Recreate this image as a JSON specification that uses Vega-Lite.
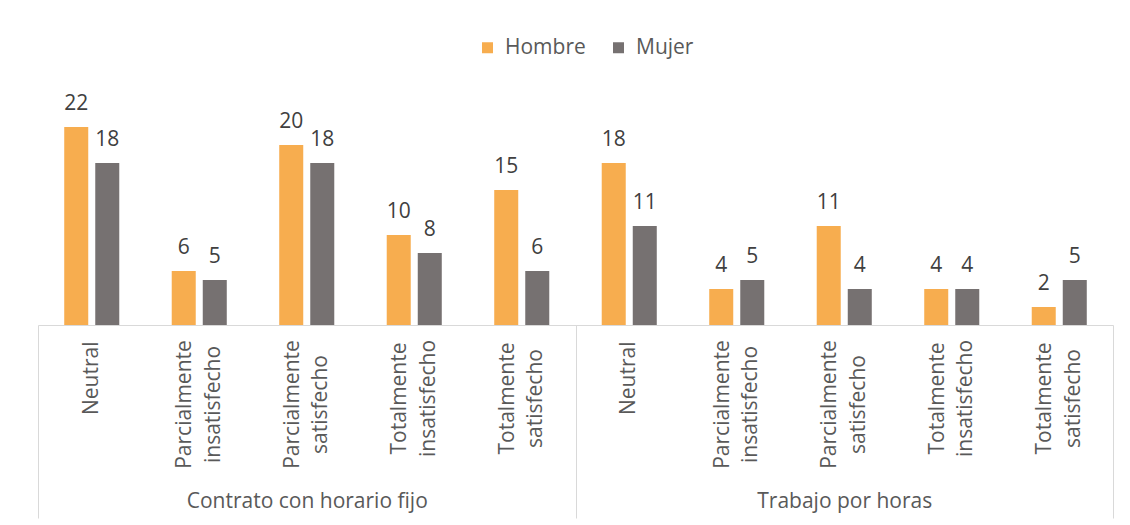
{
  "$schema": "https://vega.github.io/schema/vega-lite/v6.json",
  "width": 1075,
  "height": 225,
  "autosize": {"type": "none"},
  "padding": {"left": 38, "top": 100, "right": 17, "bottom": 200},
  "background": "white",
  "config": {"view": {"stroke": null}, "font": "Open Sans"},
  "data": {
    "values": [
      {"grupo": "Contrato con horario fijo", "clave": "1 Neutral", "sexo": "Hombre", "valor": 22},
      {"grupo": "Contrato con horario fijo", "clave": "1 Neutral", "sexo": "Mujer", "valor": 18},
      {"grupo": "Contrato con horario fijo", "clave": "1 Parcialmente|insatisfecho", "sexo": "Hombre", "valor": 6},
      {"grupo": "Contrato con horario fijo", "clave": "1 Parcialmente|insatisfecho", "sexo": "Mujer", "valor": 5},
      {"grupo": "Contrato con horario fijo", "clave": "1 Parcialmente|satisfecho", "sexo": "Hombre", "valor": 20},
      {"grupo": "Contrato con horario fijo", "clave": "1 Parcialmente|satisfecho", "sexo": "Mujer", "valor": 18},
      {"grupo": "Contrato con horario fijo", "clave": "1 Totalmente|insatisfecho", "sexo": "Hombre", "valor": 10},
      {"grupo": "Contrato con horario fijo", "clave": "1 Totalmente|insatisfecho", "sexo": "Mujer", "valor": 8},
      {"grupo": "Contrato con horario fijo", "clave": "1 Totalmente|satisfecho", "sexo": "Hombre", "valor": 15},
      {"grupo": "Contrato con horario fijo", "clave": "1 Totalmente|satisfecho", "sexo": "Mujer", "valor": 6},
      {"grupo": "Trabajo por horas", "clave": "2 Neutral", "sexo": "Hombre", "valor": 18},
      {"grupo": "Trabajo por horas", "clave": "2 Neutral", "sexo": "Mujer", "valor": 11},
      {"grupo": "Trabajo por horas", "clave": "2 Parcialmente|insatisfecho", "sexo": "Hombre", "valor": 4},
      {"grupo": "Trabajo por horas", "clave": "2 Parcialmente|insatisfecho", "sexo": "Mujer", "valor": 5},
      {"grupo": "Trabajo por horas", "clave": "2 Parcialmente|satisfecho", "sexo": "Hombre", "valor": 11},
      {"grupo": "Trabajo por horas", "clave": "2 Parcialmente|satisfecho", "sexo": "Mujer", "valor": 4},
      {"grupo": "Trabajo por horas", "clave": "2 Totalmente|insatisfecho", "sexo": "Hombre", "valor": 4},
      {"grupo": "Trabajo por horas", "clave": "2 Totalmente|insatisfecho", "sexo": "Mujer", "valor": 4},
      {"grupo": "Trabajo por horas", "clave": "2 Totalmente|satisfecho", "sexo": "Hombre", "valor": 2},
      {"grupo": "Trabajo por horas", "clave": "2 Totalmente|satisfecho", "sexo": "Mujer", "valor": 5}
    ]
  },
  "layer": [
    {
      "encoding": {
        "x": {
          "field": "clave", "type": "nominal", "sort": null,
          "scale": {"paddingInner": 0.488, "paddingOuter": 0.244},
          "axis": {
            "orient": "bottom", "title": null, "domain": false, "ticks": false,
            "labelAngle": -90, "labelFontSize": 21,
            "labelColor": "#595959", "labelLineHeight": 28.5, "labelLimit": 0,
            "labelPadding": {"condition": [
              {"test": "indexof(datum.value, 'Parcial') >= 0", "value": 79},
              {"test": "indexof(datum.value, 'Total') >= 0", "value": 73}
            ], "value": 16},
            "labelAlign": {"condition": {"test": "indexof(datum.value, '|') >= 0", "value": "center"}, "value": "right"},
            "labelOffset": {"condition": {"test": "indexof(datum.value, '|') >= 0", "value": -14}, "value": 0},
            "labelExpr": "split(slice(datum.label, 2), '|')"
          }
        },
        "xOffset": {"field": "sexo", "type": "nominal", "sort": ["Hombre", "Mujer"], "scale": {"paddingInner": 0.226, "paddingOuter": 0}},
        "y": {"field": "valor", "type": "quantitative", "scale": {"domain": [0, 25]}, "axis": null}
      },
      "layer": [
        {
          "mark": {"type": "bar"},
          "encoding": {
            "color": {
              "field": "sexo", "type": "nominal",
              "scale": {"domain": ["Hombre", "Mujer"], "range": ["#F7AD4F", "#767171"]},
              "legend": {
                "orient": "none", "legendX": 439, "legendY": -63, "direction": "horizontal",
                "title": null, "symbolType": "square", "symbolSize": 121, "symbolStrokeWidth": 0,
                "labelFontSize": 21, "labelColor": "#595959", "columnPadding": 22, "labelOffset": 7
              }
            }
          }
        },
        {
          "mark": {"type": "text", "baseline": "alphabetic", "dy": -17, "fontSize": 21, "color": "#404040"},
          "encoding": {"text": {"field": "valor", "type": "quantitative"}}
        }
      ]
    },
    {
      "mark": {"type": "text", "text": ""},
      "encoding": {
        "x": {
          "field": "grupo", "type": "nominal", "sort": null,
          "scale": {"paddingInner": 0, "paddingOuter": 0},
          "axis": {
            "orient": "bottom", "title": null, "domain": true, "domainColor": "#D9D9D9",
            "ticks": true, "tickBand": "extent", "tickSize": 193, "tickColor": "#D9D9D9",
            "labelPadding": -28, "labelFontSize": 21, "labelColor": "#595959", "labelAngle": 0, "labelLimit": 0
          }
        }
      }
    }
  ],
  "resolve": {"scale": {"x": "independent"}}
}
